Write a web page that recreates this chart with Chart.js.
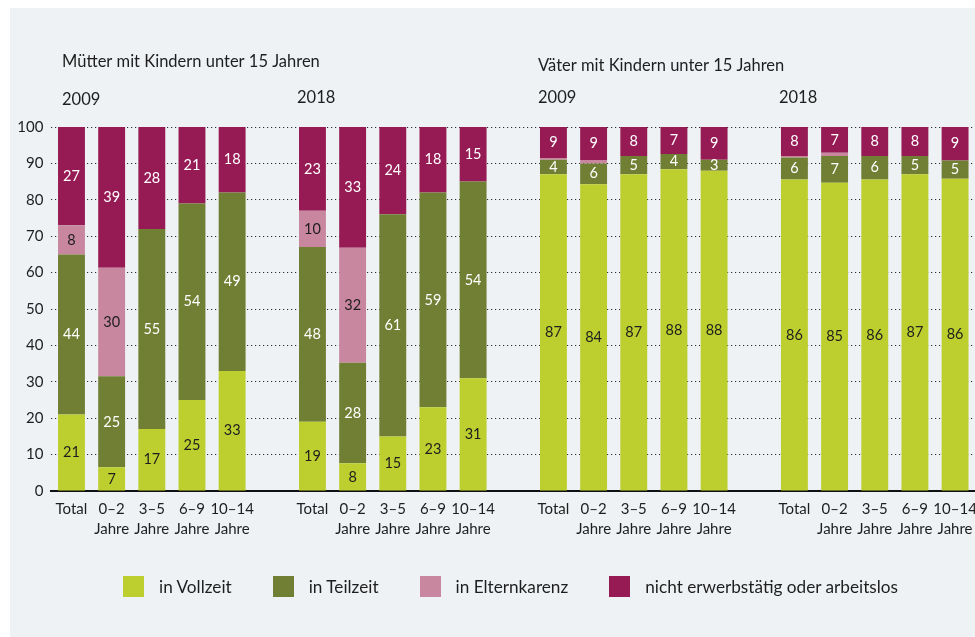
<!DOCTYPE html>
<html lang="de">
<head>
<meta charset="utf-8">
<title>Erwerbstätigkeit von Müttern und Vätern</title>
<script src="https://cdn.jsdelivr.net/npm/chart.js@4.4.0/dist/chart.umd.min.js"></script>
<style>
  html, body { margin: 0; padding: 0; background: #fff; overflow: hidden; width: 975px; height: 637px; }
  #panel { position: absolute; left: 10px; top: 8px; right: 0; bottom: 0; background: #eef2f5; }
  #wrap { position: absolute; left: 0; top: 0; width: 985px; height: 637px; }
  #legende { position: absolute; left: 123px; top: 576px; display: flex; font: 17.2px Lato, sans-serif; color: #1e1e1e; }
  #legende .item { display: flex; align-items: center; height: 21px; margin-right: 41px; }
  #legende .box { width: 21px; height: 21px; margin-right: 15px; }
</style>
</head>
<body>
<div id="panel"></div>
<div id="wrap"><canvas id="chart"></canvas></div>
<div id="legende"></div>
<script>
// --- DATEN ---
const altersgruppen = ["Total", ["0–2", "Jahre"], ["3–5", "Jahre"], ["6–9", "Jahre"], ["10–14", "Jahre"]];
const gruppenTitel = ["Mütter mit Kindern unter 15 Jahren", "", "Väter mit Kindern unter 15 Jahren", ""];
const gruppenJahre = ["2009", "2018", "2009", "2018"];
const yTicks = [0, 10, 20, 30, 40, 50, 60, 70, 80, 90, 100];

// je 5 Werte: Mütter 2009, Mütter 2018, Väter 2009, Väter 2018 (in %)
const vollzeit     = [21, 6.5, 17, 25, 33,   19, 7.6, 15, 23, 31,   87, 84.3, 87, 88.4, 88,   85.6, 84.7, 85.6, 87, 85.8];
const teilzeit     = [44, 25, 55, 54, 49,    48, 27.6, 61, 59, 54,  4, 5.7, 5, 4.2, 3,        6, 7.3, 6.4, 5, 5];
const elternkarenz = [8, 29.8, 0, 0, 0,      10, 31.6, 0, 0, 0,     0.5, 0.9, 0, 0, 0,        0.4, 0.9, 0, 0, 0];
const nichtErwerb  = [27, 38.7, 28, 21, 18,  23, 33.2, 24, 18, 15,  8.5, 9.1, 8, 7.4, 9,      8, 7.1, 8, 8, 9.2];

const FONT = "Lato";
const TEXT = "#1e1e1e";

// Kategorien mit Lücke zwischen den Gruppen aufbauen
const labels = [];
const gruppenStart = [];
gruppenJahre.forEach((j, g) => {
  if (g > 0) labels.push("");
  gruppenStart.push(labels.length);
  altersgruppen.forEach(a => labels.push(a));
});

function mitLuecken(werte) {
  const out = [];
  for (let g = 0; g < 4; g++) {
    if (g > 0) out.push(null);
    for (let i = 0; i < 5; i++) out.push(werte[g * 5 + i]);
  }
  return out;
}

const serien = [
  { label: "in Vollzeit", data: vollzeit, color: "#bccf2f", text: TEXT },
  { label: "in Teilzeit", data: teilzeit, color: "#717f35", text: "#ffffff" },
  { label: "in Elternkarenz", data: elternkarenz, color: "#c8879e", text: TEXT },
  { label: "nicht erwerbstätig oder arbeitslos", data: nichtErwerb, color: "#961b55", text: "#ffffff" }
];

// --- PLUGINS ---
const wertLabels = {
  id: "wertLabels",
  afterDatasetsDraw(chart) {
    const ctx = chart.ctx;
    ctx.save();
    ctx.font = `14.5px ${FONT}`;
    ctx.textAlign = "center";
    ctx.textBaseline = "middle";
    chart.data.datasets.forEach((ds, di) => {
      const meta = chart.getDatasetMeta(di);
      meta.data.forEach((bar, i) => {
        const v = ds.data[i];
        if (v == null || v < 2) return;
        ctx.fillStyle = serien[di].text;
        ctx.fillText(Math.round(v), bar.x, (bar.y + bar.base) / 2);
      });
    });
    ctx.restore();
  }
};

const titel = {
  id: "titel",
  afterDraw(chart) {
    const ctx = chart.ctx;
    const x = chart.scales.x;
    const halb = (x.width / labels.length) * 0.67 / 2;
    ctx.save();
    ctx.fillStyle = TEXT;
    ctx.textBaseline = "middle";
    ctx.font = `16.5px ${FONT}`;
    gruppenStart.forEach((idx, g) => {
      const links = x.getPixelForValue(idx) - halb + (g === 0 ? 4 : -2);
      if (gruppenTitel[g]) ctx.fillText(gruppenTitel[g], links, g === 0 ? 62 : 66);
      ctx.fillText(gruppenJahre[g], links, g === 0 ? 100 : 98);
    });
    ctx.restore();
  }
};

// --- GRÁFICO ---
const chart = new Chart(document.getElementById("chart"), {
  type: "bar",
  data: {
    labels: labels,
    datasets: serien.map(s => ({
      label: s.label,
      data: mitLuecken(s.data),
      backgroundColor: s.color,
      borderWidth: 0,
      barPercentage: 0.67,
      categoryPercentage: 1.0
    }))
  },
  options: {
    responsive: true,
    maintainAspectRatio: false,
    animation: false,
    layout: { padding: { top: 127, right: 8, bottom: 102, left: 0 } },
    scales: {
      x: {
        stacked: true,
        grid: { display: false, drawTicks: false },
        border: { display: true, color: "#111", width: 2 },
        ticks: {
          autoSkip: false, maxRotation: 0, padding: 8,
          color: TEXT, font: { family: FONT, size: 15, lineHeight: 1.35 }
        },
        afterFit: s => { s.height = 44; }
      },
      y: {
        stacked: true,
        min: 0, max: 100,
        afterBuildTicks: s => { s.ticks = yTicks.map(v => ({ value: v })); },
        grid: {
          color: c => (c.tick && c.tick.value === 0 ? "rgba(0,0,0,0)" : "#2a2a2a"),
          lineWidth: 1,
          drawTicks: false
        },
        border: { display: false, dash: [1.2, 2.8] },
        ticks: { padding: 8, color: TEXT, font: { family: FONT, size: 15 } },
        afterFit: s => { s.width = 51.4; }
      }
    },
    plugins: {
      legend: { display: false },
      tooltip: { enabled: false }
    }
  },
  plugins: [wertLabels, titel]
});

// --- LEYENDA (HTML) ---
const legende = document.getElementById("legende");
chart.data.datasets.forEach(ds => {
  const item = document.createElement("div");
  item.className = "item";
  const box = document.createElement("span");
  box.className = "box";
  box.style.background = ds.backgroundColor;
  const txt = document.createElement("span");
  txt.textContent = ds.label;
  item.appendChild(box);
  item.appendChild(txt);
  legende.appendChild(item);
});
</script>
</body>
</html>
